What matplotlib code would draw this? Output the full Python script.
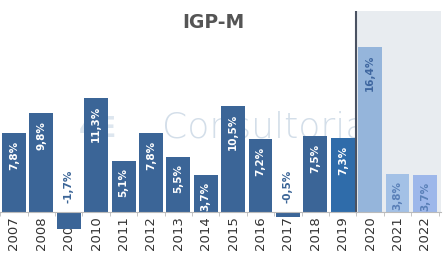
import numpy as np
import matplotlib.pyplot as plt
from matplotlib.patches import Rectangle

## DATEN
anos = ['2007', '2008', '2009', '2010', '2011', '2012', '2013', '2014',
        '2015', '2016', '2017', '2018', '2019', '2020', '2021', '2022']
igpm = [7.8, 9.8, -1.7, 11.3, 5.1, 7.8, 5.5, 3.7,
        10.5, 7.2, -0.5, 7.5, 7.3, 16.4, 3.8, 3.7]
rotulos = ['7,8%', '9,8%', '-1,7%', '11,3%', '5,1%', '7,8%', '5,5%', '3,7%',
           '10,5%', '7,2%', '-0,5%', '7,5%', '7,3%', '16,4%', '3,8%', '3,7%']

## FARBEN
escuro = '#3b6597'
cores = [escuro] * 12 + ['#2f6caa', '#95b5db', '#a3c1e6', '#9db7ea']
cor_txt = ['white'] * 16
cor_txt[2] = escuro
cor_txt[10] = escuro
cor_txt[13] = '#3f67a0'
cor_txt[14] = '#5a80b8'
cor_txt[15] = '#5a80b8'

fig = plt.figure(figsize=(4.47, 2.59), dpi=100)
ax = fig.add_axes([0.3 / 447, 26.9 / 259, 441.1 / 447, 221.5 / 259])
x = np.arange(len(anos))

# Wasserzeichen
ax.text(2.35, 8.2, '4E', fontsize=20, fontweight='bold', color='#dde6ef',
        ha='left', va='center', zorder=0)
ax.text(5.4, 8.4, 'Consultoria', fontsize=26, fontweight='light', color='#d3dee9',
        ha='left', va='center', zorder=0)

# Prognose-Bereich
ax.add_patch(Rectangle((12.5, 0), 3.1, 20, facecolor='#e8ecf0', edgecolor='none', zorder=1))
ax.plot([12.5, 12.5], [0, 20], color='#4a5262', lw=1.5, zorder=3)

ax.bar(x, igpm, width=0.87, color=cores, zorder=2)

for xi, v, r, c in zip(x, igpm, rotulos, cor_txt):
    if v >= 0:
        ax.text(xi, v - 0.75, r, rotation=90, ha='center', va='top',
                fontsize=7.5, fontweight='bold', color=c, zorder=4)
    else:
        ax.text(xi, 0.9, r, rotation=90, ha='center', va='bottom',
                fontsize=7.5, fontweight='bold', color=c, zorder=4)

ax.set_xlim(-0.5, 15.6)
ax.set_ylim(-2, 20)
for s in ['top', 'right', 'left']:
    ax.spines[s].set_visible(False)
ax.spines['bottom'].set_position(('data', 0))
ax.spines['bottom'].set_color('#bbbbbb')
ax.spines['bottom'].set_zorder(5)
ax.set_yticks([])
ax.set_xticks(x)
ax.set_xticklabels(anos, rotation=90, fontsize=9.5, color='#333333')
ax.set_xticks(np.arange(-0.5, 16, 1), minor=True)
ax.tick_params(axis='x', which='major', length=0, pad=3)
ax.tick_params(axis='x', which='minor', length=3, color='#bbbbbb')

fig.text(213 / 447, 1 - 22 / 259, 'IGP-M', ha='center', va='center',
         fontsize=13.5, fontweight='bold', color='#555555')

fig.savefig('out.png', dpi=100)
